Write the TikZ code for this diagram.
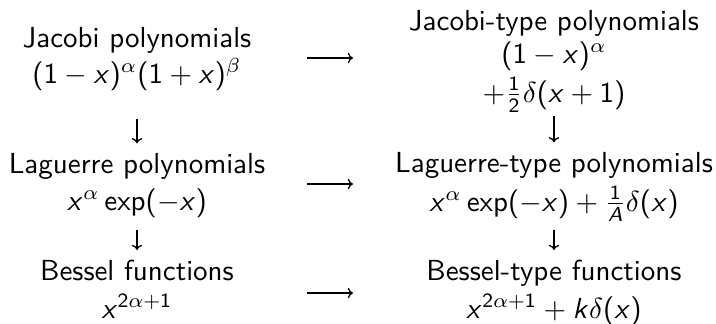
\documentclass[tikz,border=0pt]{standalone}
\usetikzlibrary{arrows.meta}
\renewcommand{\familydefault}{\sfdefault}
\DeclareSymbolFont{sfslanted}{OT1}{cmss}{m}{sl}
\SetSymbolFont{operators}{normal}{OT1}{cmss}{m}{n}
\DeclareMathSymbol{x}{\mathalpha}{sfslanted}{`x}
\DeclareMathSymbol{k}{\mathalpha}{sfslanted}{`k}
\DeclareMathSymbol{A}{\mathalpha}{sfslanted}{`A}
\begin{document}
\begin{tikzpicture}[
    x=0.3448pt, y=-0.3448pt,
    every node/.style={inner sep=0pt,anchor=base},
    conn/.style={-{Computer Modern Rightarrow[length=1.8pt,width=3.6pt]},line width=.45pt}]
    \useasboundingbox (0,0) rectangle (716,323);
    \node (jacL) at (137,47) {Jacobi polynomials};
    \node (jacLf) at (137,83) {$(1-x)^\alpha(1+x)^\beta$};
    \node (lagL) at (137,173) {Laguerre polynomials};
    \node (lagLf) at (137,210) {$x^\alpha\exp(-x)$};
    \node (besL) at (137,280) {Bessel functions};
    \node (besLf) at (137,318) {$x^{2\alpha+1}$};
    \node (jacR) at (554,30) {Jacobi-type polynomials};
    \node (jacRf) at (554,63) {$(1-x)^\alpha$};
    \node (jacRd) at (554,102) {$+\frac{1}{2}\delta(x+1)$};
    \node (lagR) at (554,172) {Laguerre-type polynomials};
    \node (lagRf) at (554,211) {$x^\alpha\exp(-x)+\frac{1}{A}\delta(x)$};
    \node (besR) at (554,280) {Bessel-type functions};
    \node (besRf) at (554,318) {$x^{2\alpha+1}+k\delta(x)$};
    \coordinate (jacA) at (307,58);
    \coordinate (jacB) at (353,58);
    \coordinate (lagA) at (307,184);
    \coordinate (lagB) at (353,184);
    \coordinate (besA) at (307,293);
    \coordinate (besB) at (353,293);
    \draw[conn] (jacA) -- (jacB);
    \draw[conn] (lagA) -- (lagB);
    \draw[conn] (besA) -- (besB);
    \draw[conn,shorten <=9.6pt,shorten >=3.1pt] (jacLf.south) -- (lagL.north);
    \draw[conn,shorten <=4.2pt,shorten >=3.1pt] (lagLf.south) -- (besL.north);
    \draw[conn,shorten <=1.2pt,shorten >=3.1pt] (jacRd.south) -- (lagR.north);
    \draw[conn,shorten <=3pt,shorten >=3.1pt] (lagRf.south) -- (besR.north);
\end{tikzpicture}
\end{document}
